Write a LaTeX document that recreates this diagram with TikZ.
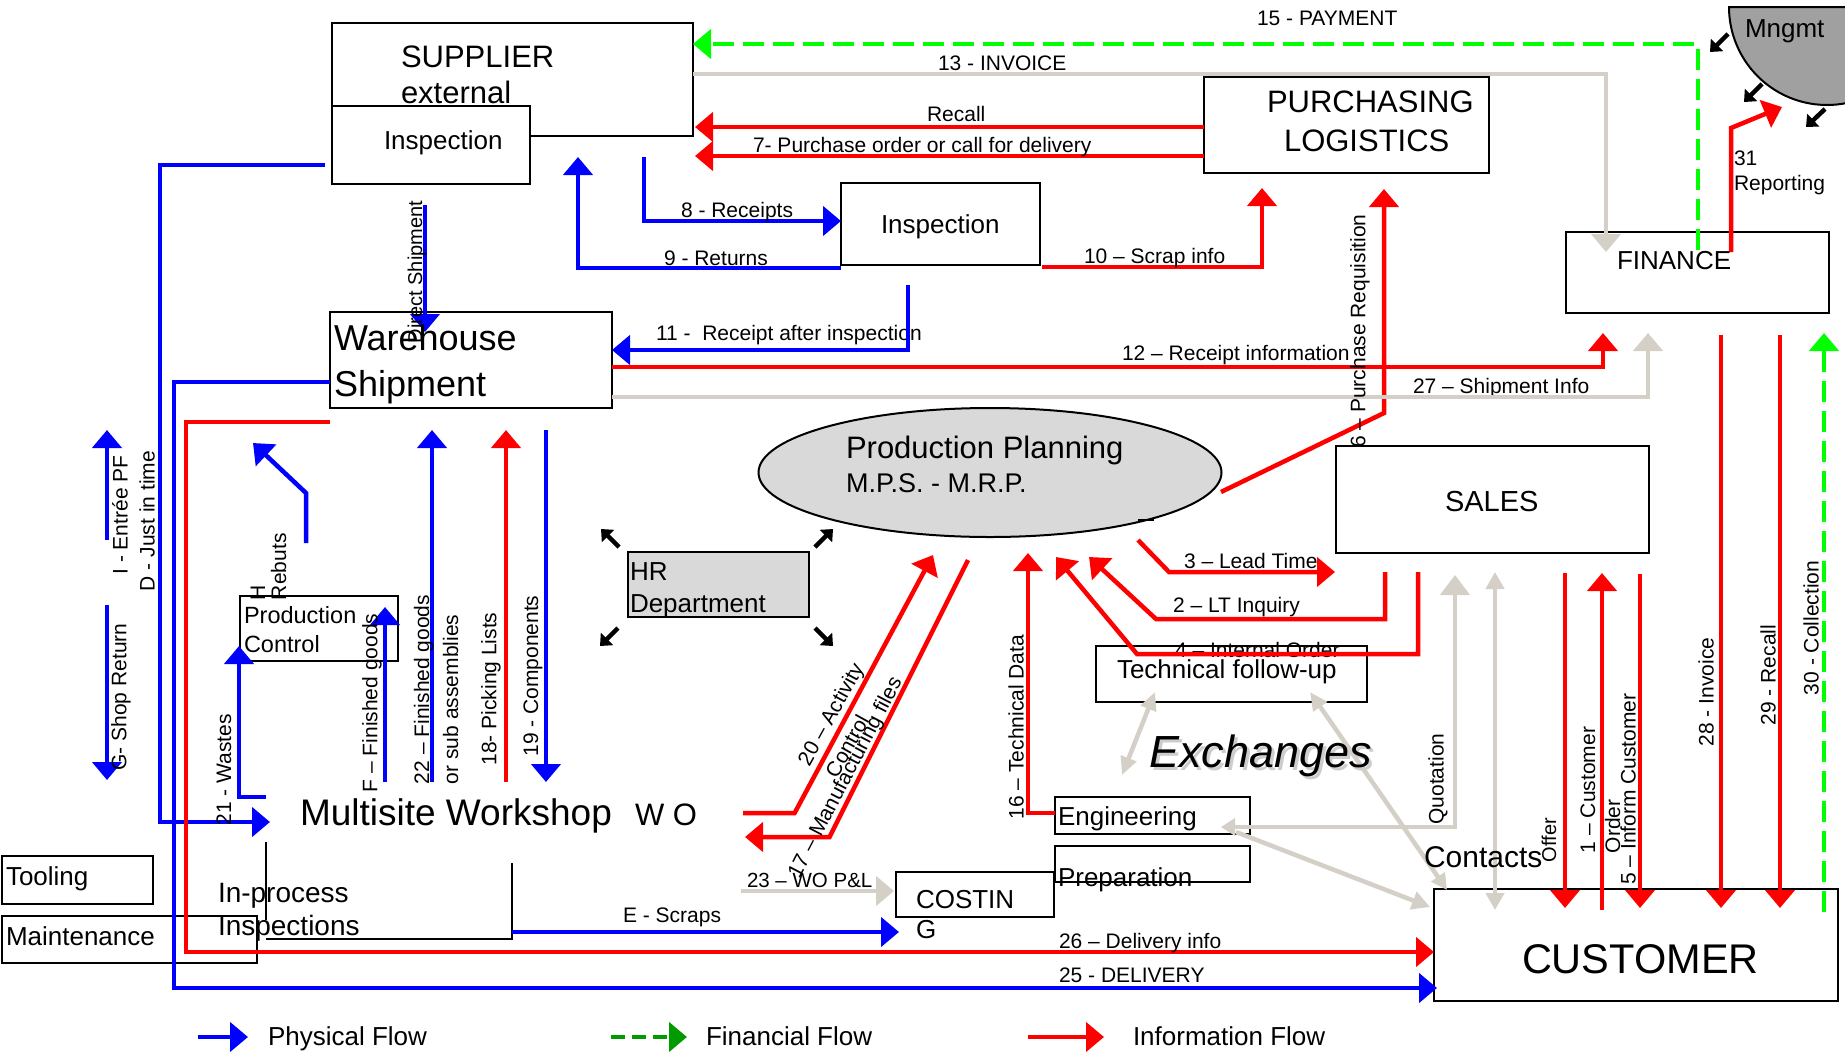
\documentclass[tikz,border=0pt]{standalone}
\usepackage{fontspec}
\setmainfont{Liberation Sans}
\usetikzlibrary{arrows.meta,shapes.geometric}
\definecolor{pblue}{RGB}{0,0,255}
\definecolor{ired}{RGB}{255,0,0}
\definecolor{fgreen}{RGB}{0,255,0}
\definecolor{lgreen}{RGB}{0,155,0}
\definecolor{lgray}{RGB}{212,208,200}
\definecolor{fillgray}{RGB}{217,217,217}
\definecolor{mgray}{RGB}{160,160,160}
\definecolor{shadowgray}{RGB}{205,205,205}
\newcommand{\fsz}[1]{\fontsize{#1}{#1}\selectfont}
\tikzset{
  boxn/.style={draw=black, line width=2pt, inner sep=0pt, outer sep=0pt, anchor=north west},
  phys/.style={draw=pblue, line width=4.5pt},
  info/.style={draw=ired, line width=4.5pt},
  finf/.style={draw=fgreen, line width=4.5pt, dash pattern=on 21pt off 9pt},
  gry/.style={draw=lgray, line width=4.5pt},
  bigtip/.style={-{Triangle[length=18pt,width=29pt]}},
  lab/.style={inner sep=0pt, outer sep=0pt, anchor=base west, font=\fsz{21}},
  vlab/.style={inner sep=0pt, outer sep=0pt, rotate=90, anchor=center, font=\fsz{21}},
  vbase/.style={inner sep=0pt, outer sep=0pt, rotate=90, anchor=base west, font=\fsz{21}},
  karrow/.style={draw=black, line width=4.5pt, -{Triangle[length=10pt,width=17pt]}},
}
\begin{document}
\begin{tikzpicture}[x=1pt,y=-1pt]
\useasboundingbox (0,0) rectangle (1845,1053);
\fill[white] (0,0) rectangle (1845,1053);

% Mngmt shape
\fill[mgray] (1729,7) arc[start angle=180,end angle=79.4,radius=98] -- (1845,7) -- cycle;
\draw[line width=2pt] (1845,7) -- (1729,7) arc[start angle=180,end angle=79.4,radius=98];

% boxes
\node[boxn, minimum width=361pt, minimum height=113pt] (sup) at (332,23) {};
\node[boxn, fill=white, minimum width=198pt, minimum height=78pt] (insp1) at (332,106) {};
\node[boxn, minimum width=282pt, minimum height=96pt] (whs) at (330,312) {};
\node[boxn, minimum width=199pt, minimum height=82pt] (insp2) at (841,183) {};
\node[boxn, minimum width=285pt, minimum height=96pt] (pur) at (1204,77) {};
\node[boxn, minimum width=263pt, minimum height=81pt] (fin) at (1566,232) {};
\node[boxn, minimum width=313pt, minimum height=107pt] (sales) at (1336,446) {};
\node[boxn, fill=fillgray, minimum width=181pt, minimum height=65pt] (hr) at (628,552) {};
\node[boxn, minimum width=158pt, minimum height=65pt] (pc) at (240,596) {};
\node[boxn, minimum width=271pt, minimum height=56pt] (tech) at (1096,646) {};
\node[boxn, minimum width=195pt, minimum height=37pt] (eng) at (1055,797) {};
\node[boxn, minimum width=195pt, minimum height=36pt] (prep) at (1055,846) {};
\node[boxn, minimum width=158pt, minimum height=45pt] (cost) at (896,872) {};
\node[boxn, minimum width=404pt, minimum height=112pt] (cust) at (1434,889) {};
\node[boxn, minimum width=151pt, minimum height=48pt] (tool) at (2,856) {};
\node[boxn, minimum width=255pt, minimum height=47pt] (maint) at (2,916) {};
\node[ellipse, draw=black, line width=2pt, fill=fillgray, inner sep=0pt, minimum width=463pt, minimum height=129pt] (pp) at (990,472.5) {};
\draw[line width=2pt] (1138,520) -- (1154,520);

% in-process frame
\draw[line width=2pt] (266,842) -- (266,920);
\draw[line width=2pt] (266,939) -- (512,939) -- (512,863);

% labels under lines
\node[lab] (l27) at (1413,393) {27 – Shipment Info};
\node[lab] (l4) at (1175,657) {4 – Internal Order};
\node[lab, font=\fsz{20.5}] (l23) at (747,887) {23 – WO P\&L};
\node[lab] (l11) at (656,340) {11 -~ Receipt after inspection};

% coordinates
\path (325,165) coordinate (a1) (160,822) coordinate (a1c) (270,822) coordinate (a1e)
      (425,205) coordinate (ds1) (425,332) coordinate (ds2)
      (644,157) coordinate (r8a) (841,221) coordinate (r8b)
      (841,268) coordinate (ret1) (578,157) coordinate (ret2)
      (908,285) coordinate (r11a) (612,350) coordinate (r11b)
      (330,382) coordinate (d25a) (174,988) coordinate (d25c) (1437,988) coordinate (d25e)
      (107,540) coordinate (ie1) (107,430) coordinate (ie2)
      (107,605) coordinate (gs1) (107,780) coordinate (gs2)
      (306,543) coordinate (hr1) (306,493) coordinate (hr2) (253,443) coordinate (hr3)
      (266,797) coordinate (w1) (239,646) coordinate (w2)
      (385,782) coordinate (ff1) (385,607) coordinate (ff2)
      (432,782) coordinate (f22a) (432,430) coordinate (f22b)
      (546,430) coordinate (c19a) (546,782) coordinate (c19b)
      (512,932) coordinate (es1) (899,932) coordinate (es2)
      (1204,127) coordinate (rc1) (695,127) coordinate (rc2)
      (1204,156) coordinate (po1) (695,156) coordinate (po2)
      (1042,267) coordinate (sc1) (1262,188) coordinate (sc2)
      (1221,492) coordinate (pr1) (1384,413) coordinate (pr2) (1384,189) coordinate (pr3)
      (612,367) coordinate (ri1) (1603,333) coordinate (ri2)
      (330,422) coordinate (di1) (186,952) coordinate (di2) (1434,952) coordinate (di3)
      (506,782) coordinate (pl1) (506,430) coordinate (pl2)
      (743,813) coordinate (ac1) (794.6,813) coordinate (ac2) (933,555) coordinate (ac3)
      (968,560) coordinate (mf1) (829.5,837) coordinate (mf2) (745,837) coordinate (mf3)
      (1055,813) coordinate (td1) (1028,553) coordinate (td2)
      (1138,540) coordinate (lt1) (1169,572) coordinate (lt2) (1335,572) coordinate (lt3)
      (1385,572) coordinate (lq1) (1156,619) coordinate (lq2) (1089,557) coordinate (lq3)
      (1418,572) coordinate (io1) (1137,654) coordinate (io2) (1056,557) coordinate (io3)
      (1565,573) coordinate (of1) (1565,908) coordinate (of2)
      (1602,910) coordinate (co1) (1602,573) coordinate (co2)
      (1640,574) coordinate (ic1) (1640,908) coordinate (ic2)
      (1721,335) coordinate (iv1) (1721,908) coordinate (iv2)
      (1780,335) coordinate (rl1) (1780,908) coordinate (rl2)
      (1731,252) coordinate (rp1) (1731,128) coordinate (rp2) (1782,107) coordinate (rp3)
      (1698,250) coordinate (py1) (1698,44) coordinate (py2) (693,44) coordinate (py3)
      (1824,912) coordinate (cl1) (1824,333) coordinate (cl2)
      (693,74) coordinate (in1) (1606,74) coordinate (in2) (1606,252) coordinate (in3)
      (612,397) coordinate (sh1) (1648,397) coordinate (sh2) (1648,333) coordinate (sh3)
      (741,891) coordinate (wo1) (894,891) coordinate (wo2)
      (1221,827) coordinate (qu1) (1455,827) coordinate (qu2) (1455,575) coordinate (qu3)
      (1236,832) coordinate (ec1) (1430,907) coordinate (ec2)
      (1155,692) coordinate (te1) (1122,775) coordinate (te2)
      (1310,692) coordinate (tc1) (1447,890) coordinate (tc2)
      (1495,572) coordinate (cv1) (1495,910) coordinate (cv2)
      (198,1037) coordinate (lg1) (248,1037) coordinate (lg2)
      (611,1037) coordinate (lg3) (687,1037) coordinate (lg4)
      (1028,1037) coordinate (lg5) (1104,1037) coordinate (lg6);

% physical flows
\draw[phys,bigtip] (a1) -| (a1c) -- (a1e);
\draw[phys,bigtip] (ds1) -- (ds2);
\draw[phys,bigtip] (r8a) |- (r8b);
\draw[phys,bigtip] (ret1) -| (ret2);
\draw[phys,bigtip] (r11a) |- (r11b);
\draw[phys,bigtip] (d25a) -| (d25c) -- (d25e);
\draw[phys,bigtip] (ie1) -- (ie2);
\draw[phys,bigtip] (gs1) -- (gs2);
\draw[phys,bigtip] (hr1) -- (hr2) -- (hr3);
\draw[phys,bigtip] (w1) -| (w2);
\draw[phys,bigtip] (ff1) -- (ff2);
\draw[phys,bigtip] (f22a) -- (f22b);
\draw[phys,bigtip] (c19a) -- (c19b);
\draw[phys,bigtip] (es1) -- (es2);
\draw[phys,bigtip] (lg1) -- (lg2);

% information flows
\draw[info,bigtip] (rc1) -- (rc2);
\draw[info,bigtip] (po1) -- (po2);
\draw[info,bigtip] (sc1) -| (sc2);
\draw[info,bigtip] (pr1) -- (pr2) -- (pr3);
\draw[info,bigtip] (ri1) -| (ri2);
\draw[info,bigtip] (di1) -| (di2) -- (di3);
\draw[info,bigtip] (pl1) -- (pl2);
\draw[info,bigtip] (ac1) -- (ac2) -- (ac3);
\draw[info,bigtip] (mf1) -- (mf2) -- (mf3);
\draw[info,bigtip] (td1) -| (td2);
\draw[info,bigtip] (lt1) -- (lt2) -- (lt3);
\draw[info,bigtip] (lq1) |- (lq2) -- (lq3);
\draw[info,bigtip] (io1) |- (io2) -- (io3);
\draw[info,bigtip] (of1) -- (of2);
\draw[info,bigtip] (co1) -- (co2);
\draw[info,bigtip] (ic1) -- (ic2);
\draw[info,bigtip] (iv1) -- (iv2);
\draw[info,bigtip] (rl1) -- (rl2);
\draw[info,bigtip] (rp1) -- (rp2) -- (rp3);
\draw[info,bigtip] (lg5) -- (lg6);

% financial flows
\draw[finf,bigtip] (py1) |- (py3);
\draw[finf,bigtip] (cl1) -- (cl2);
\draw[draw=lgreen, line width=4.5pt, dash pattern=on 14pt off 7pt, bigtip] (lg3) -- (lg4);

% grey exchanges
\draw[gry,bigtip] (in1) -| (in3);
\draw[gry,bigtip] (sh1) -| (sh3);
\draw[gry,bigtip] (wo1) -- (wo2);
\draw[gry,{Triangle[length=14pt,width=17pt]}-{Triangle[length=20pt,width=29pt]}] (qu1) -| (qu3);
\draw[gry,-{Triangle[length=18pt,width=18pt]}] (ec1) -- (ec2);
\draw[gry,{Triangle[length=18pt,width=16pt]}-{Triangle[length=18pt,width=16pt]}] (te1) -- (te2);
\draw[gry,{Triangle[length=18pt,width=16pt]}-{Triangle[length=16pt,width=16pt]}] (tc1) -- (tc2);
\draw[gry,{Triangle[length=17pt,width=18pt]}-{Triangle[length=17pt,width=18pt]}] (cv1) -- (cv2);

% small black arrows
\draw[karrow] (619,547) -- (601,529);
\draw[karrow] (815,547) -- (833,529);
\draw[karrow] (618,628) -- (600,646);
\draw[karrow] (815,628) -- (833,646);
\draw[karrow] (1728,34) -- (1710,52);
\draw[karrow] (1762,84) -- (1744,102);
\draw[karrow] (1825,109) -- (1806,127);

% box texts
\node[lab, font=\fsz{31}] (tsup1) at (401,67) {SUPPLIER};
\node[lab, font=\fsz{31}] (tsup2) at (401,103) {external};
\node[lab, font=\fsz{26}] (tin1) at (384,149) {Inspection};
\node[lab, font=\fsz{36}] (twh1) at (334,350) {Warehouse};
\node[lab, font=\fsz{36}] (twh2) at (334,396) {Shipment};
\node[lab, font=\fsz{26}] (tin2) at (881,233) {Inspection};
\node[lab, font=\fsz{31}] (tpu1) at (1267,112) {PURCHASING};
\node[lab, font=\fsz{31}] (tpu2) at (1284,151) {LOGISTICS};
\node[lab, font=\fsz{26}] (tfin) at (1617,269) {FINANCE};
\node[lab, font=\fsz{26}] (tmng) at (1745,37) {Mngmt};
\node[lab, font=\fsz{31}] (tpp1) at (846,458) {Production Planning};
\node[lab, font=\fsz{27}] (tpp2) at (846,492) {M.P.S. - M.R.P.};
\node[lab, font=\fsz{26}] (thr1) at (630,580) {HR};
\node[lab, font=\fsz{26}] (thr2) at (630,612) {Department};
\node[lab, font=\fsz{29}] (tsal) at (1445,511) {SALES};
\node[lab, font=\fsz{26}] (ttec) at (1117,678) {Technical follow-up};
\node[lab, font=\fsz{45}\itshape, text=shadowgray] (texs) at (1152,770) {Exchanges};
\node[lab, font=\fsz{45}\itshape] (tex) at (1149,767) {Exchanges};
\node[lab, font=\fsz{26}] (teng) at (1058,825) {Engineering};
\node[lab, font=\fsz{26}] (tprep) at (1058,886) {Preparation};
\node[lab, font=\fsz{26}] (tcos1) at (916,908) {COSTIN};
\node[lab, font=\fsz{26}] (tcos2) at (916,938) {G};
\node[lab, font=\fsz{41.5}] (tcus) at (1522,973) {CUSTOMER};
\node[lab, font=\fsz{30}] (tcon) at (1424,867) {Contacts};
\node[lab, font=\fsz{37}] (tmw) at (300,825) {Multisite Workshop};
\node[lab, font=\fsz{31}] (two) at (635,825) {W O};
\node[lab, font=\fsz{28}] (tip1) at (218,902) {In-process};
\node[lab, font=\fsz{28}] (tip2) at (218,935) {Inspections};
\node[lab, font=\fsz{23.5}] (tpc1) at (244,623) {Production};
\node[lab, font=\fsz{23.5}] (tpc2) at (244,652) {Control};
\node[lab, font=\fsz{26}] (ttool) at (6,885) {Tooling};
\node[lab, font=\fsz{26}] (tmnt) at (6,945) {Maintenance};
\node[lab, font=\fsz{26}] (tleg1) at (268,1045) {Physical Flow};
\node[lab, font=\fsz{26}] (tleg2) at (706,1045) {Financial Flow};
\node[lab, font=\fsz{26}] (tleg3) at (1133,1045) {Information Flow};

% connector labels
\node[lab] (l15) at (1257,25) {15 - PAYMENT};
\node[lab] (l13) at (938,70) {13 - INVOICE};
\node[lab] (lrc) at (927,121) {Recall};
\node[lab] (l7) at (753,152) {7- Purchase order or call for delivery};
\node[lab] (l8) at (681,217) {8 - Receipts};
\node[lab] (l9) at (664,265) {9 - Returns};
\node[lab] (l10) at (1084,263) {10 – Scrap info};
\node[lab] (l12) at (1122,360) {12 – Receipt information};
\node[lab] (l31a) at (1734,165) {31};
\node[lab] (l31b) at (1734,190) {Reporting};
\node[lab] (l3) at (1184,568) {3 – Lead Time};
\node[lab] (l2) at (1173,612) {2 – LT Inquiry};
\node[lab] (lE) at (623,922) {E - Scraps};
\node[lab] (l26) at (1059,948) {26 – Delivery info};
\node[lab] (l25) at (1059,982) {25 - DELIVERY};

% rotated labels
\node[vlab, font=\fsz{20}] (lds) at (417,272) {Direct Shipment};
\node[vlab] (l6) at (1360,331) {6 – Purchase Requisition};
\node[vlab] (lI) at (120,515) {I - Entrée PF};
\node[vlab] (lD) at (147,521) {D - Just in time};
\node[vlab] (lG) at (121,697) {G- Shop Return};
\node[vbase] (lH1) at (265,600) {H};
\node[vbase] (lH2) at (286,600) {Rebuts};
\node[vlab] (l21) at (224,770) {21 - Wastes};
\node[vlab] (lF) at (372,703) {F – Finished goods};
\node[vbase] (l22a) at (429,784) {22 – Finished goods};
\node[vbase] (l22b) at (458,784) {or sub assemblies};
\node[vlab] (l18) at (491,689) {18- Picking Lists};
\node[vlab] (l19) at (533,676) {19 - Components};
\node[vlab] (l16) at (1016,727) {16 – Technical Data};
\node[vlab] (lq) at (1438,779) {Quotation};
\node[vlab, font=\fsz{20}] (lof) at (1549,840) {Offer};
\node[vbase] (l1a) at (1595,853) {1 – Customer};
\node[vbase] (l1b) at (1620,853) {Order};
\node[vlab] (l5) at (1628,789) {5 – Inform Customer};
\node[vlab] (l28) at (1706,692) {28 - Invoice};
\node[vlab] (l29) at (1768,675) {29 - Recall};
\node[vlab] (l30) at (1811,628) {30 - Collection};
\node[inner sep=0pt, rotate=61, font=\fsz{21}] (l20a) at (832,715) {20 – Activity};
\node[inner sep=0pt, rotate=61, font=\fsz{21}] (l20b) at (847,746) {Control};
\node[inner sep=0pt, rotate=62.5, font=\fsz{21}] (l17) at (846,778) {17 – Manufacturing files};
\end{tikzpicture}
\end{document}
